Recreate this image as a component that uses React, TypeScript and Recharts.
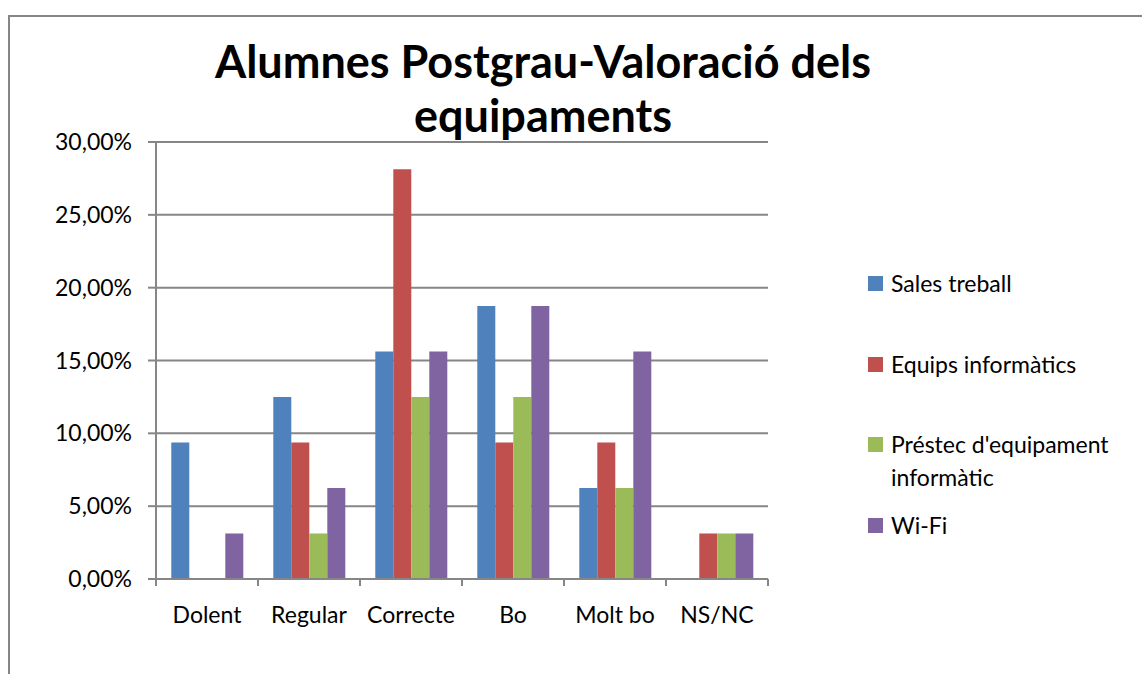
import React from 'react';
import { BarChart, Bar, XAxis, YAxis, CartesianGrid, Legend } from 'recharts';

const categories = ['Dolent', 'Regular', 'Correcte', 'Bo', 'Molt bo', 'NS/NC'];
const salesTreball = [9.375, 12.5, 15.625, 18.75, 6.25, 0];
const equipsInformatics = [0, 9.375, 28.125, 9.375, 9.375, 3.125];
const prestecEquipament = [0, 3.125, 12.5, 12.5, 6.25, 3.125];
const wifi = [3.125, 6.25, 15.625, 18.75, 15.625, 3.125];
const yTicks = [0, 5, 10, 15, 20, 25, 30];

const seriesKeys = ['sales', 'equips', 'prestec', 'wifi'];
const seriesNames = ['Sales treball', 'Equips informàtics', "Préstec d'equipament informàtic", 'Wi-Fi'];
const seriesColors = ['#4F81BD', '#C0504D', '#9BBB59', '#8064A2'];
const titleLines = ['Alumnes Postgrau-Valoració dels', 'equipaments'];

const data = categories.map((c, i) => ({
  cat: c,
  sales: salesTreball[i],
  equips: equipsInformatics[i],
  prestec: prestecEquipament[i],
  wifi: wifi[i],
}));

const FONT = 'Lato, "Open Sans", sans-serif';
const GRAY = '#868686';
const FS = 23;
const X_TICK_SIZE = 7;
const X_TICK_MARGIN = 21;

const fmt = (v: number) => v.toFixed(2).replace('.', ',') + '%';

const CategoryTick = (props: any) => {
  const { x, y, payload, index, visibleTicksCount } = props;
  const off = payload && payload.offset ? payload.offset : 0;
  const axisY = y - X_TICK_SIZE - X_TICK_MARGIN;
  const left = x - off;
  const right = x + off;
  return (
    <g>
      <line x1={left} x2={left} y1={axisY} y2={axisY + X_TICK_SIZE} stroke={GRAY} strokeWidth={2} />
      {index === visibleTicksCount - 1 && (
        <line x1={right} x2={right} y1={axisY} y2={axisY + X_TICK_SIZE} stroke={GRAY} strokeWidth={2} />
      )}
      <text x={x} y={y} dy="0.71em" textAnchor="middle" fill="#000" fontSize={FS} fontFamily={FONT}>
        {payload.value}
      </text>
    </g>
  );
};

const LegendContent = () => (
  <div style={{ position: 'relative', fontFamily: FONT, fontSize: FS, color: '#000', width: 255, height: 330 }}>
    {seriesNames.map((n, i) => (
      <div key={n} style={{ position: 'absolute', left: 0, top: i * 80.5, display: 'flex', alignItems: 'flex-start', lineHeight: '33px' }}>
        <div style={{ width: 15, height: 15, background: seriesColors[i], marginTop: 9, marginRight: 8, flexShrink: 0 }} />
        <div style={{ width: 240 }}>{n}</div>
      </div>
    ))}
  </div>
);

export default function App() {
  return (
    <div style={{ position: 'absolute', left: 0, top: 0, width: 1142, height: 674, background: '#fff', overflow: 'hidden' }}>
      <div style={{ position: 'absolute', left: 8, top: 15, width: 1200, height: 800, borderLeft: `2px solid ${GRAY}`, borderTop: `2px solid ${GRAY}` }} />
      <div style={{ position: 'absolute', left: 193, top: 34, width: 700, textAlign: 'center', fontFamily: FONT, fontWeight: 700, fontSize: 45, lineHeight: '54px', color: '#000', whiteSpace: 'nowrap' }}>
        {titleLines.map((t) => (
          <div key={t}>{t}</div>
        ))}
      </div>
      <BarChart
        width={1142}
        height={674}
        data={data}
        margin={{ top: 142, right: 374, bottom: 45, left: 96 }}
        barCategoryGap="15%"
        barGap={0}
        style={{ position: 'absolute', left: 0, top: 0 }}
      >
        <CartesianGrid vertical={false} stroke={GRAY} strokeWidth={2} />
        <XAxis
          dataKey="cat"
          tickLine={false}
          tickSize={X_TICK_SIZE}
          tickMargin={X_TICK_MARGIN}
          axisLine={{ stroke: GRAY, strokeWidth: 2 }}
          tick={<CategoryTick />}
          height={50}
          interval={0}
        />
        <YAxis
          domain={[0, 30]}
          ticks={yTicks}
          tickFormatter={fmt}
          width={60}
          tickSize={8}
          tickMargin={16}
          axisLine={{ stroke: GRAY, strokeWidth: 2 }}
          tickLine={{ stroke: GRAY, strokeWidth: 2 }}
          tick={{ fill: '#000', fontSize: FS, fontFamily: FONT }}
          interval={0}
        />
        <Legend
          layout="horizontal"
          verticalAlign="middle"
          align="center"
          content={<LegendContent />}
          wrapperStyle={{ left: 868, top: 267, width: 270 }}
        />
        {seriesKeys.map((k, i) => (
          <Bar key={k} dataKey={k} name={seriesNames[i]} fill={seriesColors[i]} isAnimationActive={false} />
        ))}
      </BarChart>
    </div>
  );
}
